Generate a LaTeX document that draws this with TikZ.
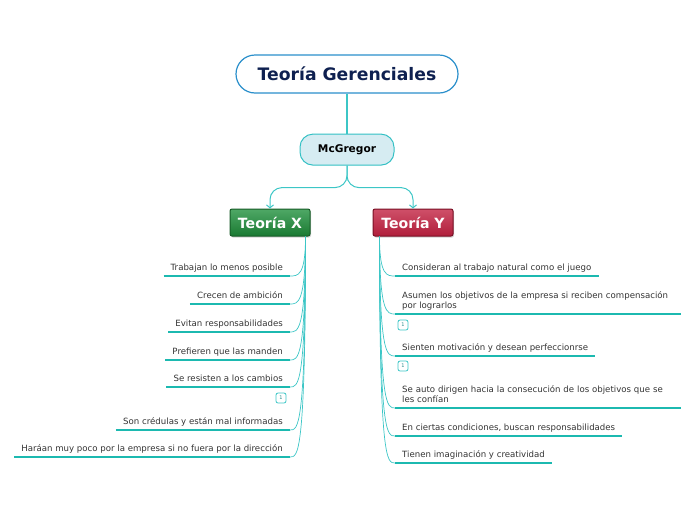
\documentclass[tikz,border=0pt]{standalone}
\usepackage{fontspec}
\setmainfont{DejaVu Sans}
\usepackage{xcolor}
\usetikzlibrary{positioning, arrows.meta, shadows}

\definecolor{lnkc}{HTML}{3CC6C6}
\definecolor{ulc}{HTML}{1CB9B0}
\definecolor{navy}{HTML}{0E2050}
\definecolor{titb}{HTML}{2A8FCB}
\definecolor{mcfill}{HTML}{D6ECF2}
\definecolor{mcdraw}{HTML}{33C0C4}
\definecolor{txtc}{HTML}{333333}
\definecolor{grtop}{HTML}{4FA866}
\definecolor{grbot}{HTML}{1A7A32}
\definecolor{grdraw}{HTML}{175C27}
\definecolor{rdtop}{HTML}{CF5069}
\definecolor{rdbot}{HTML}{B01E3B}
\definecolor{rddraw}{HTML}{7A1025}

\begin{document}
\begin{tikzpicture}[
  x=1pt, y=-1pt,
  every node/.style={font=\fontsize{8.6}{10.5}\selectfont, text=txtc},
  tit/.style={rectangle, rounded corners=19pt, draw=titb, line width=1.2pt, fill=white, minimum width=222pt, minimum height=38pt, font=\fontsize{17.2}{19}\selectfont\bfseries, text=navy},
  mc/.style={rectangle, rounded corners=13pt, draw=mcdraw, line width=1pt, fill=mcfill, minimum width=94pt, minimum height=31pt, font=\fontsize{10.6}{12}\selectfont\bfseries, text=black},
  thx/.style={rectangle, rounded corners=2pt, line width=1pt, minimum width=80pt, minimum height=27pt, font=\fontsize{14.1}{16}\selectfont\bfseries, text=white, drop shadow={shadow xshift=1pt, shadow yshift=-1.5pt, opacity=0.35}},
  itemL/.style={anchor=south east, inner xsep=7pt, inner ysep=3pt, text height=6.5pt, text depth=2pt},
  itemR/.style={anchor=south west, inner xsep=7pt, inner ysep=3pt, text height=6.5pt, text depth=2pt, align=left},
  two/.style={text width=272pt, text depth=12.5pt},
  badge/.style={rectangle, rounded corners=2pt, draw=lnkc, line width=0.8pt, fill=white, minimum size=10pt, inner sep=0pt, font=\fontsize{5}{6}\selectfont, text=lnkc!70!black},
  lnk/.style={draw=lnkc, line width=0.7pt},
  uline/.style={draw=ulc, line width=2pt},
  arr/.style={draw=lnkc, line width=1pt, -{Straight Barb[length=3pt, width=7pt]}},
]
\useasboundingbox (0,0) rectangle (696,520);

\node[tit] (tg) at (347,74) {Teoría Gerenciales};
\node[mc, below=40pt of tg] (mg) {McGregor};
\node[thx, top color=grtop, bottom color=grbot, draw=grdraw] (tx) at (270,222.5) {Teoría X};
\node[thx, top color=rdtop, bottom color=rdbot, draw=rddraw] (ty) at (413,222.5) {Teoría Y};

% teoria X
\node[itemL] (l1) at (290,276) {Trabajan lo menos posible};
\node[itemL] (l2) at (290,304) {Crecen de ambición};
\node[itemL] (l3) at (290,332) {Evitan responsabilidades};
\node[itemL] (l4) at (290,360) {Prefieren que las manden};
\node[itemL] (l5) at (290,387) {Se resisten a los cambios};
\node[badge] (b1) at (281,398) {1};
\node[itemL] (l6) at (290,430) {Son crédulas y están mal informadas};
\node[itemL] (l7) at (290,457) {Haráan muy poco por la empresa si no fuera por la dirección};

% teoria Y
\node[itemR] (r1) at (395,276) {Consideran al trabajo natural como el juego};
\node[itemR, two] (r2) at (395,314) {Asumen los objetivos de la empresa si reciben compensación\\por lograrlos};
\node[badge] (b2) at (403,325) {1};
\node[itemR] (r3) at (395,356) {Sienten motivación y desean perfeccionrse};
\node[badge] (b3) at (403,366) {1};
\node[itemR, two] (r4) at (395,408) {Se auto dirigen hacia la consecución de los objetivos que se\\les confían};
\node[itemR] (r5) at (395,436) {En ciertas condiciones, buscan responsabilidades};
\node[itemR] (r6) at (395,463) {Tienen imaginación y creatividad};

\coordinate (xt) at ([xshift=-5pt]tx.south east);
\coordinate (yt) at ([xshift=7pt]ty.south west);

\draw[lnk, line width=1.2pt] (tg.south) -- (mg.north);
\draw[arr, rounded corners=12pt] (mg.south) -- ++(0,22) -| (tx.north);
\draw[arr, rounded corners=12pt] (mg.south) -- ++(0,22) -| (ty.north);

\foreach \n in {l1,l2,l3,l4,l5,l6,l7}{
  \draw[lnk] (xt) .. controls (xt |- \n.south east) and +(8,0) .. (\n.south east);
  \draw[uline] (\n.south west) -- (\n.south east);
}
\foreach \n in {r1,r2,r3,r4,r5,r6}{
  \draw[lnk] (yt) .. controls (yt |- \n.south west) and +(-8,0) .. (\n.south west);
  \draw[uline] (\n.south west) -- (\n.south east);
}
\end{tikzpicture}
\end{document}
